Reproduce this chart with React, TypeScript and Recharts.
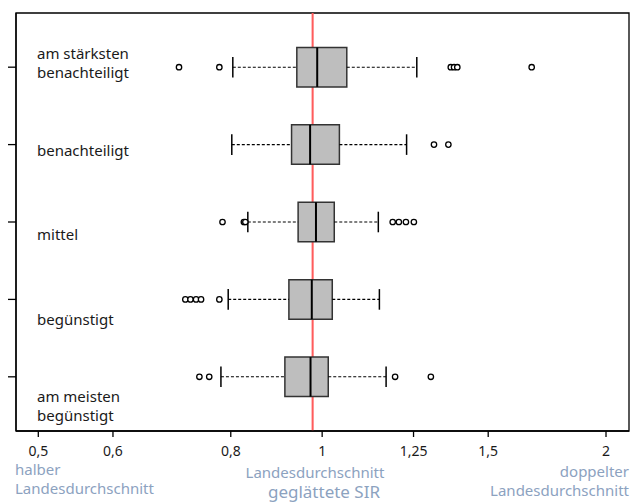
import React from "react";
import {
  ComposedChart,
  XAxis,
  YAxis,
  Scatter,
  ReferenceArea,
  ReferenceLine,
} from "recharts";

// ---- data ----
const categories = [
  "am stärksten benachteiligt",
  "benachteiligt",
  "mittel",
  "begünstigt",
  "am meisten begünstigt",
];
const whiskerLow = [0.804, 0.802, 0.834, 0.795, 0.781];
const q1 = [0.94, 0.928, 0.943, 0.922, 0.913];
const median = [0.988, 0.971, 0.985, 0.975, 0.972];
const q3 = [1.062, 1.043, 1.03, 1.025, 1.015];
const whiskerHigh = [1.26, 1.229, 1.147, 1.15, 1.169];
const outliers = [
  [0.705, 0.778, 1.369, 1.38, 1.391, 1.668],
  [1.314, 1.361],
  [0.784, 0.826, 0.829, 1.188, 1.206, 1.227, 1.251],
  [0.716, 0.725, 0.735, 0.744, 0.778],
  [0.741, 0.759, 1.195, 1.304],
];
const xTicks = [0.5, 0.6, 0.8, 1, 1.25, 1.5, 2];
const nationalAverage = 0.977;

// ---- layout / style ----
const W = 637;
const H = 504;
const X_DOMAIN: [number, number] = [0.4735, 2.1155];
const Y_DOMAIN: [number, number] = [0.3, 5.7];
const BOX_HALF = 0.255;
const CAP_HALF = 0.133;
const RED_HALF_WIDTH = 0.0025; // relative half-width of the red band (log units)
const FONT = "'Noto Sans', sans-serif";
const BLUE = "#8CA2BF";

const outlierPoints = outliers.flatMap((arr, i) =>
  arr.map((v) => ({ v, g: i + 1 }))
);

const Circle = (props: any) => {
  const { cx, cy } = props;
  if (cx == null || cy == null) return null;
  return (
    <circle cx={cx} cy={cy} r={2.7} fill="#fff" stroke="#000" strokeWidth={1.3} />
  );
};

const labelLines: { lines: string[]; top: number }[] = [
  { lines: ["am stärksten", "benachteiligt"], top: 44 },
  { lines: ["benachteiligt"], top: 141 },
  { lines: ["mittel"], top: 225 },
  { lines: ["begünstigt"], top: 310 },
  { lines: ["am meisten", "begünstigt"], top: 387 },
];

export default function App() {
  return (
    <div
      style={{
        position: "absolute",
        left: 0,
        top: 0,
        width: W,
        height: H,
        background: "#fff",
        fontFamily: FONT,
        overflow: "hidden",
      }}
    >
      <ComposedChart
        width={W}
        height={H}
        margin={{ top: 13, right: 8, bottom: 43, left: 0 }}
      >
        <XAxis
          type="number"
          dataKey="v"
          scale="log"
          domain={X_DOMAIN}
          allowDataOverflow
          ticks={xTicks}
          interval={0}
          tickFormatter={(t: number) => String(t).replace(".", ",")}
          tick={{ fill: "#1a1a1a", fontSize: 14, fontFamily: FONT }}
          tickSize={6}
          tickMargin={9}
          height={30}
          axisLine={{ stroke: "#000", strokeWidth: 1.3 }}
          tickLine={{ stroke: "#000", strokeWidth: 1.3 }}
        />
        <YAxis
          type="number"
          dataKey="g"
          domain={Y_DOMAIN}
          allowDataOverflow
          reversed
          ticks={[1, 2, 3, 4, 5]}
          interval={0}
          tickFormatter={() => ""}
          width={16}
          tickSize={8}
          axisLine={{ stroke: "#000", strokeWidth: 1.3 }}
          tickLine={{ stroke: "#000", strokeWidth: 1.3 }}
        />
        <ReferenceArea
          x1={X_DOMAIN[0]}
          x2={X_DOMAIN[1]}
          y1={Y_DOMAIN[0]}
          y2={Y_DOMAIN[1]}
          fill="none"
          fillOpacity={0}
          stroke="#000"
          strokeWidth={1.3}
          ifOverflow="visible"
        />
        <ReferenceArea
          x1={nationalAverage * Math.exp(-RED_HALF_WIDTH)}
          x2={nationalAverage * Math.exp(RED_HALF_WIDTH)}
          y1={Y_DOMAIN[0]}
          y2={Y_DOMAIN[1]}
          fill="#FF5C5C"
          fillOpacity={1}
          stroke="none"
          ifOverflow="visible"
        />
        {categories.map((c, i) => {
          const g = i + 1;
          return (
            <React.Fragment key={c}>
              <ReferenceLine
                segment={[
                  { x: whiskerLow[i], y: g },
                  { x: q1[i], y: g },
                ]}
                stroke="#000"
                strokeWidth={1.1}
                strokeDasharray="3 2"
                ifOverflow="visible"
              />
              <ReferenceLine
                segment={[
                  { x: q3[i], y: g },
                  { x: whiskerHigh[i], y: g },
                ]}
                stroke="#000"
                strokeWidth={1.1}
                strokeDasharray="3 2"
                ifOverflow="visible"
              />
              <ReferenceLine
                segment={[
                  { x: whiskerLow[i], y: g - CAP_HALF },
                  { x: whiskerLow[i], y: g + CAP_HALF },
                ]}
                stroke="#000"
                strokeWidth={1.5}
                ifOverflow="visible"
              />
              <ReferenceLine
                segment={[
                  { x: whiskerHigh[i], y: g - CAP_HALF },
                  { x: whiskerHigh[i], y: g + CAP_HALF },
                ]}
                stroke="#000"
                strokeWidth={1.5}
                ifOverflow="visible"
              />
              <ReferenceArea
                x1={q1[i]}
                x2={q3[i]}
                y1={g - BOX_HALF}
                y2={g + BOX_HALF}
                fill="#BEBEBE"
                fillOpacity={1}
                stroke="#333"
                strokeWidth={1.5}
                ifOverflow="visible"
              />
              <ReferenceLine
                segment={[
                  { x: median[i], y: g - BOX_HALF },
                  { x: median[i], y: g + BOX_HALF },
                ]}
                stroke="#000"
                strokeWidth={2}
                ifOverflow="visible"
              />
            </React.Fragment>
          );
        })}
        <Scatter
          data={outlierPoints}
          dataKey="v"
          shape={Circle}
          isAnimationActive={false}
        />
      </ComposedChart>

      {labelLines.map((l, i) => (
        <div
          key={i}
          style={{
            position: "absolute",
            left: 37,
            top: l.top,
            fontSize: 15,
            lineHeight: "18.5px",
            color: "#1a1a1a",
            whiteSpace: "nowrap",
          }}
        >
          {l.lines.map((s, j) => (
            <div key={j}>{s}</div>
          ))}
        </div>
      ))}

      <div
        style={{
          position: "absolute",
          left: 15,
          top: 460,
          fontSize: 15,
          lineHeight: "18.5px",
          color: BLUE,
        }}
      >
        <div>halber</div>
        <div>Landesdurchschnitt</div>
      </div>
      <div
        style={{
          position: "absolute",
          left: 215,
          width: 200,
          top: 463,
          textAlign: "center",
          fontSize: 15,
          lineHeight: "18.5px",
          color: BLUE,
        }}
      >
        Landesdurchschnitt
      </div>
      <div
        style={{
          position: "absolute",
          left: 224,
          width: 200,
          top: 482,
          textAlign: "center",
          fontSize: 17,
          lineHeight: "20px",
          color: BLUE,
        }}
      >
        geglättete SIR
      </div>
      <div
        style={{
          position: "absolute",
          right: W - 629,
          top: 462,
          textAlign: "right",
          fontSize: 15,
          lineHeight: "18.5px",
          color: BLUE,
        }}
      >
        <div>doppelter</div>
        <div>Landesdurchschnitt</div>
      </div>
    </div>
  );
}
